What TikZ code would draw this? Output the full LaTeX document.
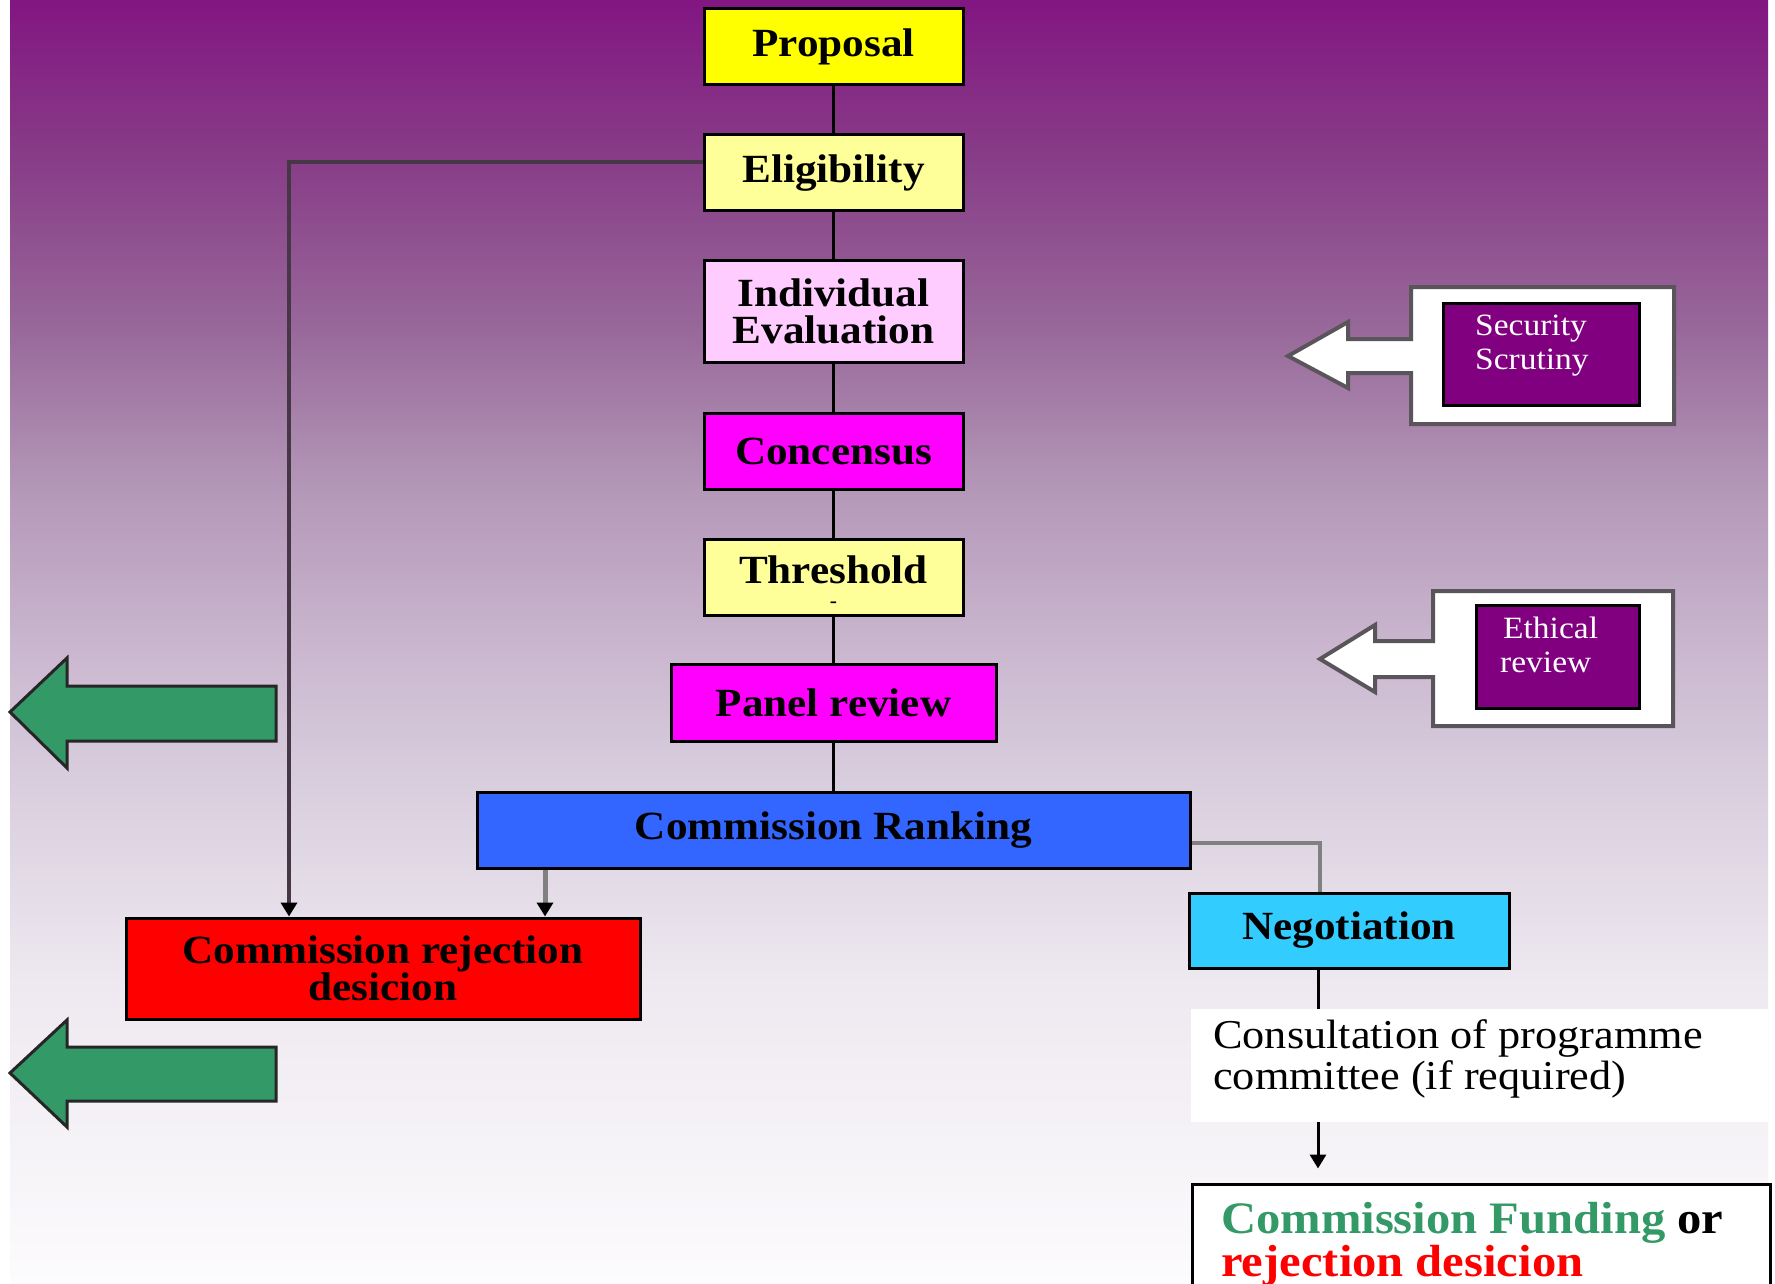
\documentclass[tikz,border=0pt]{standalone}
\usepackage{fontspec}
\setmainfont{Liberation Serif}
\newfontfamily\widefont{Liberation Serif}[FakeStretch=1.08]
\usetikzlibrary{arrows.meta,calc}
\definecolor{bgA}{RGB}{130,22,130}
\definecolor{bgB}{RGB}{136,62,136}
\definecolor{bgC}{RGB}{152,104,154}
\definecolor{bgD}{RGB}{180,152,184}
\definecolor{bgE}{RGB}{203,184,208}
\definecolor{bgF}{RGB}{216,205,221}
\definecolor{bgG}{RGB}{238,233,240}
\definecolor{bgH}{RGB}{252,251,253}
\pgfdeclareverticalshading{bgshade}{100bp}{color(0bp)=(bgH); color(25bp)=(bgH); color(36.7bp)=(bgG); color(44.7bp)=(bgF); color(49.5bp)=(bgE); color(55.9bp)=(bgD); color(62.2bp)=(bgC); color(68.6bp)=(bgB); color(75bp)=(bgA); color(100bp)=(bgA)}
\definecolor{cyellow}{RGB}{255,255,0}
\definecolor{cpale}{RGB}{255,255,153}
\definecolor{cpink}{RGB}{255,204,255}
\definecolor{cmagenta}{RGB}{255,0,255}
\definecolor{cblue}{RGB}{51,102,255}
\definecolor{ccyan}{RGB}{51,204,255}
\definecolor{cred}{RGB}{255,0,0}
\definecolor{cpurple}{RGB}{128,0,128}
\definecolor{cgreen}{RGB}{51,153,102}
\definecolor{cgrayline}{RGB}{128,128,128}
\definecolor{cdarkline}{RGB}{70,55,70}
\definecolor{cshapeborder}{RGB}{90,85,90}
\begin{document}
\begin{tikzpicture}[x=1pt,y=-1pt,
  box/.style={draw=black,line width=3pt,inner sep=0pt,align=center,
    font=\widefont\bfseries\fontsize{40}{37}\selectfont},
  plain/.style={inner sep=0pt,anchor=base west},
  conn/.style={draw=black,line width=3pt},
  tipA/.style={-{Triangle[width=16pt,length=14pt,color=black,fill=black]}},
  greenarrow/.style={fill=cgreen,draw=black!85,line width=3pt,line join=miter},
  whitearrow/.style={fill=white,draw=cshapeborder,line width=4pt,line join=miter}
]
\useasboundingbox (0,0) rectangle (1775,1284);
\clip (0,0) rectangle (1775,1284);
\fill[white] (0,0) rectangle (1775,1284);
\shade[shading=bgshade] (10,0) rectangle (1768,1284);

% main boxes
\node[box,fill=cyellow,minimum width=259pt,minimum height=76pt] (prop) at (833.5,47) {Proposal};
\node[box,fill=cpale,minimum width=259pt,minimum height=76pt] (elig) at (833.5,173) {Eligibility};
\node[box,fill=cpink,minimum width=259pt,minimum height=102pt] (indiv) at (833.5,311) {Individual\\Evaluation};
\node[box,fill=cmagenta,minimum width=259pt,minimum height=76pt] (cons) at (833.5,451) {Concensus};
\node[box,fill=cpale,minimum width=259pt,minimum height=76pt] (thr) at (833.5,577) {};
\node[inner sep=0pt,font=\widefont\bfseries\fontsize{40}{37}\selectfont] (thrtext) at (833.5,570) {Threshold};
\node[inner sep=0pt,font=\widefont\bfseries\fontsize{20}{20}\selectfont] (thrdash) at (833.5,605) {-};
\node[box,fill=cmagenta,minimum width=325pt,minimum height=77pt] (panel) at (833.5,702.5) {Panel review};
\node[box,fill=cblue,minimum width=713pt,minimum height=76pt] (cr) at (833.5,830) {Commission Ranking};
\node[box,fill=cred,minimum width=514pt,minimum height=101pt] (rej) at (383,968.5) {Commission rejection\\desicion};
\node[box,fill=ccyan,minimum width=320pt,minimum height=75pt] (neg) at (1349,930.5) {Negotiation};

% consultation
\node[fill=white,inner sep=0pt,minimum width=577pt,minimum height=113pt] (consult) at (1479.5,1065.5) {};
\node[plain,font=\widefont\fontsize{41}{41}\selectfont] (consultA) at (1213,1048) {Consultation of programme};
\node[plain,font=\widefont\fontsize{41}{41}\selectfont] (consultB) at (1213,1089) {committee (if required)};

% funding
\node[draw=black,line width=3pt,fill=white,inner sep=0pt,minimum width=578pt,minimum height=140pt] (fund) at (1481,1254) {};
\node[plain,font=\widefont\bfseries\fontsize{45}{45}\selectfont] (fundA) at (1221,1233) {\textcolor{cgreen}{Commission Funding} or};
\node[plain,font=\widefont\bfseries\fontsize{45}{45}\selectfont,text=cred] (fundB) at (1221,1276) {rejection desicion};

% side white arrow boxes
\draw[whitearrow] (1288,356) -- (1348,322) -- (1348,339) -- (1411,339) -- (1411,287) -- (1674,287) -- (1674,424) -- (1411,424) -- (1411,373) -- (1348,373) -- (1348,388) -- cycle;
\node[draw=black,line width=3pt,fill=cpurple,minimum width=196pt,minimum height=102pt,inner sep=0pt] (sec) at (1541,354) {};
\node[plain,text=white,font=\widefont\fontsize{31}{31}\selectfont] (secA) at (1475,335) {Security};
\node[plain,text=white,font=\widefont\fontsize{31}{31}\selectfont] (secB) at (1475,369) {Scrutiny};

\draw[whitearrow] (1320,659) -- (1375,625) -- (1375,641) -- (1433,641) -- (1433,591) -- (1673,591) -- (1673,726) -- (1433,726) -- (1433,677) -- (1375,677) -- (1375,692) -- cycle;
\node[draw=black,line width=3pt,fill=cpurple,minimum width=163pt,minimum height=103pt,inner sep=0pt] (eth) at (1557.5,656.5) {};
\node[plain,text=white,font=\widefont\fontsize{31}{31}\selectfont] (ethA) at (1503,638) {Ethical};
\node[plain,text=white,font=\widefont\fontsize{31}{31}\selectfont] (ethB) at (1500,672) {review};

% green arrows
\draw[greenarrow] (10,712) -- (67,658) -- (67,686) -- (276,686) -- (276,741) -- (67,741) -- (67,768) -- cycle;
\draw[greenarrow] (10,1073) -- (67,1020) -- (67,1047) -- (276,1047) -- (276,1101) -- (67,1101) -- (67,1127) -- cycle;

% spine
\draw[conn] (prop) -- (elig);
\draw[conn] (elig) -- (indiv);
\draw[conn] (indiv) -- (cons);
\draw[conn] (cons) -- (thr);
\draw[conn] (thr) -- (panel);
\draw[conn] (panel) -- (cr);

% other connectors
\coordinate (eK) at (289,162);
\draw[draw=cdarkline,line width=4pt,tipA] (elig.west |- eK) -| (rej.north -| eK);
\coordinate (cK) at (545,0);
\draw[draw=cgrayline,line width=5pt,tipA] (cr.south -| cK) -- (rej.north -| cK);
\coordinate (nK) at (1320,843);
\draw[draw=cgrayline,line width=4pt] (cr.east |- nK) -| (neg.north -| nK);
\coordinate (sK) at (1318,0);
\draw[conn] (neg.south -| sK) -- (consult.north -| sK);
\draw[conn,tipA,shorten >=14pt] (consult.south -| sK) -- (fund.north -| sK);
\end{tikzpicture}
\end{document}
